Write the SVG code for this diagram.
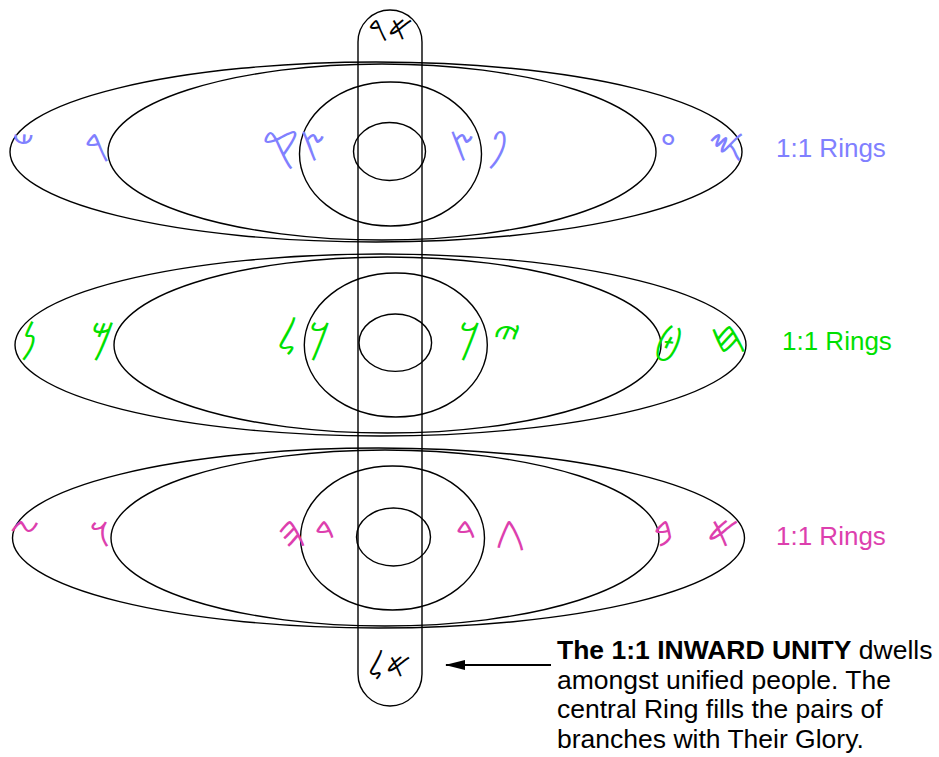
<svg xmlns="http://www.w3.org/2000/svg" width="939" height="757" viewBox="0 0 939 757">
<style>
.ring{fill:none;stroke:#000;stroke-width:1.4}
.g{font-family:"DejaVu Sans","Noto Sans",sans-serif;font-size:44px;text-anchor:middle}
.s{font-size:34px}
.b{fill:#8080ff}.gr{fill:#00e000}.p{fill:#dd3fae}
.k{fill:#000}
.lbl{font-family:"Liberation Sans",Arial,sans-serif;font-size:26px}
.note{font-family:"Liberation Sans",Arial,sans-serif;font-size:26.5px;fill:#000}
</style>
<defs>
<marker id="ah" markerWidth="20" markerHeight="12" refX="19" refY="6" orient="auto" markerUnits="userSpaceOnUse">
<path d="M0,1 L20,6 L0,11 Z" fill="#000"/>
</marker>
</defs>
<g id="row1">
<ellipse class="ring" cx="376" cy="152" rx="366" ry="90"/>
<ellipse class="ring" cx="382" cy="152" rx="274" ry="88"/>
<ellipse class="ring" cx="390.5" cy="154" rx="91" ry="72"/>
<ellipse class="ring" cx="389.5" cy="151.5" rx="36" ry="29"/>
<text class="g b" x="23" y="160">𐤔</text>
<text class="g b" x="97" y="160">𐤓</text>
<text class="g b" x="280" y="160">𐤒</text>
<text class="g b" x="313" y="160">𐤑</text>
<text class="g b" x="462" y="160">𐤑</text>
<text class="g b" x="497" y="160">𐤐</text>
<text class="g b" x="668" y="160">𐤏</text>
<text class="g b" x="726" y="160">𐤎</text>
<text class="lbl b" x="776" y="157">1:1 Rings</text>
</g>
<g id="row2">
<ellipse class="ring" cx="380.5" cy="345" rx="365.5" ry="91"/>
<ellipse class="ring" cx="387.5" cy="345" rx="273.5" ry="88"/>
<ellipse class="ring" cx="395.8" cy="345" rx="91.5" ry="72"/>
<ellipse class="ring" cx="395.3" cy="342.7" rx="36.3" ry="28.7"/>
<text class="g gr" x="28" y="352">𐤍</text>
<text class="g gr" x="103" y="352">𐤌</text>
<text class="g gr" x="287" y="352">𐤋</text>
<text class="g gr" x="320" y="352">𐤊</text>
<text class="g gr" x="470" y="352">𐤊</text>
<text class="g gr" x="507" y="352">𐤉</text>
<text class="g gr" x="668" y="352">𐤈</text>
<text class="g gr" x="728" y="352">𐤇</text>
<text class="lbl gr" x="782" y="350">1:1 Rings</text>
</g>
<g id="row3">
<ellipse class="ring" cx="378.5" cy="538" rx="366" ry="90"/>
<ellipse class="ring" cx="385" cy="538" rx="274" ry="88"/>
<ellipse class="ring" cx="392.5" cy="538" rx="92" ry="72"/>
<ellipse class="ring" cx="393.5" cy="537" rx="37" ry="29"/>
<text class="g p" x="24" y="547">𐤆</text>
<text class="g p" x="100" y="547">𐤅</text>
<text class="g p" x="292" y="547">𐤄</text>
<text class="g p" x="325" y="547">𐤃</text>
<text class="g p" x="466" y="547">𐤃</text>
<text class="g p" x="510" y="547">𐤂</text>
<text class="g p" x="663" y="547">𐤁</text>
<text class="g p" x="723" y="547">𐤀</text>
<text class="lbl p" x="776" y="545">1:1 Rings</text>
</g>
<g id="rod">
<rect class="ring" x="358" y="10" width="64" height="696" rx="32" ry="32"/>
<text class="g s k" x="378" y="40">𐤓</text>
<text class="g s k" x="400" y="40">𐤀</text>
<text class="g s k" x="376" y="677">𐤋</text>
<text class="g s k" x="398" y="677">𐤀</text>
</g>
<g id="connectors">
<line x1="551" y1="665" x2="446" y2="665" stroke="#000" stroke-width="2" marker-end="url(#ah)"/>
</g>
<g id="note">
<text class="note" x="557" y="659"><tspan font-weight="bold">The 1:1 INWARD UNITY</tspan> dwells</text>
<text class="note" x="557" y="689">amongst unified people. The</text>
<text class="note" x="557" y="718">central Ring fills the pairs of</text>
<text class="note" x="557" y="748">branches with Their Glory.</text>
</g>
</svg>
